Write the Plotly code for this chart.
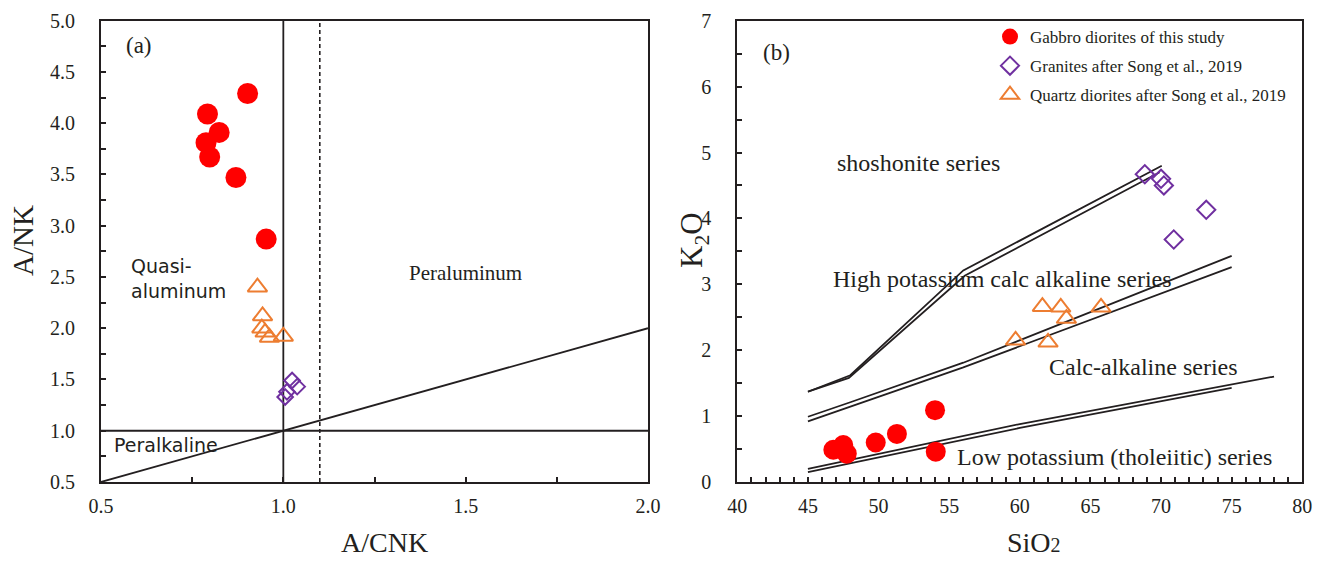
import plotly.graph_objects as go

# ---------------- data: panel (a) A/CNK vs A/NK ----------------
a_gd_acnk = [0.902, 0.792, 0.824, 0.788, 0.798, 0.870, 0.953]
a_gd_ank = [4.29, 4.09, 3.91, 3.81, 3.67, 3.47, 2.87]
a_qd_acnk = [0.929, 0.943, 0.941, 0.950, 0.962, 1.000]
a_qd_ank = [2.40, 2.12, 2.00, 1.96, 1.91, 1.92]
a_gr_acnk = [1.024, 1.038, 1.010, 1.005]
a_gr_ank = [1.49, 1.43, 1.38, 1.33]

# boundaries panel (a)
a_vline_x = [1.0, 1.0]
a_vline_y = [0.5, 5.0]
a_dash_x = [1.1, 1.1]
a_dash_y = [0.5, 5.0]
a_hline_x = [0.5, 2.0]
a_hline_y = [1.0, 1.0]
a_diag_x = [0.5, 2.0]
a_diag_y = [0.5, 2.0]

# ---------------- data: panel (b) SiO2 vs K2O ----------------
b_gd_sio2 = [46.8, 47.5, 47.75, 49.8, 51.3, 54.0, 54.05]
b_gd_k2o = [0.49, 0.56, 0.43, 0.60, 0.73, 1.09, 0.46]
b_gr_sio2 = [68.85, 70.0, 70.2, 73.2, 70.9]
b_gr_k2o = [4.67, 4.60, 4.50, 4.13, 3.68]
b_qd_sio2 = [61.6, 62.9, 63.3, 65.75, 59.7, 62.0]
b_qd_k2o = [2.66, 2.65, 2.48, 2.65, 2.15, 2.12]

# series boundaries (double lines)
sho_a_x = [45, 48, 56, 63, 70.05]
sho_a_y = [1.37, 1.62, 3.21, 4.0, 4.80]
sho_b_x = [45, 47.9, 56.1, 69.9]
sho_b_y = [1.37, 1.58, 3.13, 4.70]
hk_a_x = [45, 48, 56, 63, 75]
hk_a_y = [0.99, 1.21, 1.81, 2.41, 3.43]
hk_b_x = [45, 56, 75]
hk_b_y = [0.92, 1.74, 3.26]
th_a_x = [45, 60, 78]
th_a_y = [0.20, 0.88, 1.60]
th_b_x = [45, 60, 75]
th_b_y = [0.15, 0.82, 1.43]

INK = "#231f20"
RED = "#ff0000"
PURPLE = "#7030a0"
ORANGE = "#ed7d31"
SERIF = "Liberation Serif, Times New Roman, serif"
SANS = "DejaVu Sans, Open Sans, sans-serif"

W, H = 1322, 561

def px2x(p):
    return p / W

def py2y(p):
    return 1 - p / H

fig = go.Figure()

# ---- panel (a) lines
for xs, ys, dash in [(a_vline_x, a_vline_y, "solid"), (a_dash_x, a_dash_y, "dash"),
                     (a_hline_x, a_hline_y, "solid"), (a_diag_x, a_diag_y, "solid")]:
    fig.add_trace(go.Scatter(x=xs, y=ys, mode="lines", xaxis="x", yaxis="y",
                             line=dict(color=INK, width=1.6 if dash == "dash" else 1.8,
                                       dash="4px,3px" if dash == "dash" else "solid"),
                             showlegend=False, hoverinfo="skip"))

fig.add_trace(go.Scatter(x=a_gr_acnk, y=a_gr_ank, mode="markers", xaxis="x", yaxis="y",
                         marker=dict(symbol="diamond-open", size=12, color=PURPLE,
                                     line=dict(width=2, color=PURPLE)),
                         showlegend=False))
fig.add_trace(go.Scatter(x=a_qd_acnk, y=a_qd_ank, mode="markers", xaxis="x", yaxis="y",
                         marker=dict(symbol="triangle-up-open", size=17, color=ORANGE,
                                     line=dict(width=2, color=ORANGE)),
                         showlegend=False))
fig.add_trace(go.Scatter(x=a_gd_acnk, y=a_gd_ank, mode="markers", xaxis="x", yaxis="y",
                         marker=dict(symbol="circle", size=21, color=RED),
                         showlegend=False))

# ---- panel (b) lines
for xs, ys in [(sho_a_x, sho_a_y), (sho_b_x, sho_b_y), (hk_a_x, hk_a_y),
               (hk_b_x, hk_b_y), (th_a_x, th_a_y), (th_b_x, th_b_y)]:
    fig.add_trace(go.Scatter(x=xs, y=ys, mode="lines", xaxis="x2", yaxis="y2",
                             line=dict(color=INK, width=1.8),
                             showlegend=False, hoverinfo="skip"))

fig.add_trace(go.Scatter(x=b_gd_sio2, y=b_gd_k2o, mode="markers", xaxis="x2", yaxis="y2",
                         name="Gabbro diorites of this study", legendgroup="g1",
                         marker=dict(symbol="circle", size=20, color=RED)))
fig.add_trace(go.Scatter(x=b_gr_sio2, y=b_gr_k2o, mode="markers", xaxis="x2", yaxis="y2",
                         name="Granites after Song et al., 2019", legendgroup="g2",
                         marker=dict(symbol="diamond-open", size=14, color=PURPLE,
                                     line=dict(width=2, color=PURPLE))))
fig.add_trace(go.Scatter(x=b_qd_sio2, y=b_qd_k2o, mode="markers", xaxis="x2", yaxis="y2",
                         name="Quartz diorites after Song et al., 2019", legendgroup="g3",
                         marker=dict(symbol="triangle-up-open", size=17, color=ORANGE,
                                     line=dict(width=2, color=ORANGE))))

axis_common = dict(showgrid=False, zeroline=False, showline=True, linecolor=INK,
                   linewidth=2, mirror=True, ticks="inside", ticklen=5, tickwidth=1.5,
                   tickcolor=INK, automargin=False,
                   tickfont=dict(family=SERIF, size=20, color=INK))

fig.update_layout(
    width=W, height=H,
    margin=dict(l=0, r=0, t=0, b=0, autoexpand=False),
    paper_bgcolor="white", plot_bgcolor="white",
    xaxis=dict(domain=[px2x(101), px2x(648)], range=[0.5, 2.0], anchor="y",
               tickvals=[0.5, 1.0, 1.5, 2.0], ticktext=["0.5", "1.0", "1.5", "2.0"],
               minor=dict(dtick=0.25, ticks="inside", ticklen=5, tickcolor=INK),
               ticklabelstandoff=5, **axis_common),
    yaxis=dict(domain=[py2y(482), py2y(20.7)], range=[0.5, 5.0], anchor="x",
               dtick=0.5, tickformat=".1f",
               minor=dict(dtick=0.25, ticks="inside", ticklen=5, tickcolor=INK),
               ticklabelstandoff=20, **axis_common),
    xaxis2=dict(domain=[px2x(737.3), px2x(1302.3)], range=[40, 80], anchor="y2",
                dtick=5,
                minor=dict(dtick=1, ticks="inside", ticklen=5, tickcolor=INK),
                ticklabelstandoff=5, **axis_common),
    yaxis2=dict(domain=[py2y(482), py2y(20.7)], range=[0, 7], anchor="x2",
                dtick=1,
                minor=dict(dtick=0.5, ticks="inside", ticklen=5, tickcolor=INK),
                ticklabelstandoff=20, **axis_common),
    legend=dict(x=px2x(990), y=py2y(19), xanchor="left", yanchor="top",
                bgcolor="rgba(0,0,0,0)", borderwidth=0,
                font=dict(family=SERIF, size=17, color=INK),
                tracegroupgap=4, itemsizing="trace"),
    showlegend=True,
)

ann = []
def txt(text, x, y, xref, yref, size, family=SERIF, xanchor="center", yanchor="middle",
        align="center", textangle=0):
    ann.append(dict(text=text, x=x, y=y, xref=xref, yref=yref, showarrow=False,
                    font=dict(family=family, size=size, color=INK),
                    xanchor=xanchor, yanchor=yanchor, align=align, textangle=textangle))

# panel (a) texts
txt("(a)", 0.603, 4.76, "x", "y", 23)
txt("Quasi-<br>aluminum", 0.577, 2.49, "x", "y", 19, family=SANS, xanchor="left", align="left")
txt("Peralkaline", 0.531, 0.86, "x", "y", 19, family=SANS, xanchor="left")
txt("Peraluminum", 1.5, 2.54, "x", "y", 21)
# panel (b) texts
txt("(b)", 42.8, 6.51, "x2", "y2", 23)
txt("shoshonite series", 46.95, 4.84, "x2", "y2", 24, xanchor="left")
txt("High potassium calc alkaline series", 46.6, 3.08, "x2", "y2", 24, xanchor="left")
txt("Calc-alkaline series", 61.9, 1.74, "x2", "y2", 24, xanchor="left")
txt("Low potassium (tholeiitic) series", 55.4, 0.375, "x2", "y2", 24, xanchor="left")
# axis titles
txt("A/NK", px2x(23), py2y(241), "paper", "paper", 29, textangle=-90)
txt("A/CNK", px2x(384), py2y(560), "paper", "paper", 28, yanchor="bottom")
txt("K<sub>2</sub>O", px2x(694), py2y(240), "paper", "paper", 31, textangle=-90)
txt("SiO<span style='font-size:20px'>2</span>", px2x(1034), py2y(560), "paper", "paper", 28,
    yanchor="bottom")

fig.update_layout(annotations=ann)

fig.write_html("out.html")
